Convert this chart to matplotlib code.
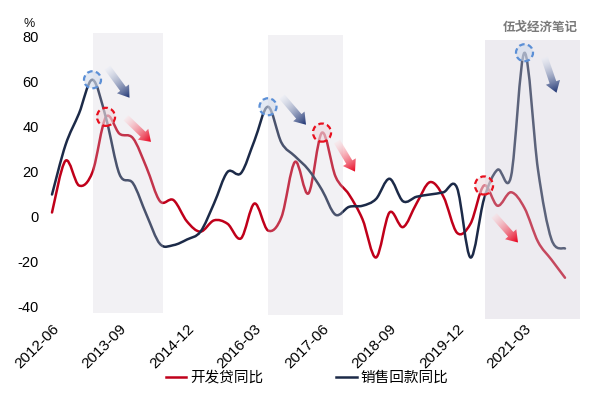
import numpy as np
import matplotlib
matplotlib.use("Agg")
import matplotlib.pyplot as plt
from matplotlib.path import Path
from matplotlib.patches import PathPatch, Rectangle, FancyArrow
from matplotlib.lines import Line2D
from matplotlib.colors import to_rgba

# ---------------- data (quarterly, month index from 2012-06) ----------------
months = list(range(0, 115, 3))
dev_loan = [2, 25, 14, 20, 44.5, 37, 35, 22, 7, 7.5,
            -2, -6.5, -1.5, -3, -9.5, 6, -6, 0, 24.5, 10.5,
            37.5, 18, 10, -1, -18, 2, -4.5, 6, 15.5, 9,
            -7, -3, 14, 5, 11, 4, -11, -19, -27]
sales_ret = [10, 32, 46, 61, 44, 19, 15, 1, -12, -12.5,
             -10, -6.5, 6, 20, 19.5, 34, 49, 33, 27, 21,
             12, 1, 4.5, 5, 8, 17, 7, 9, 10, 11,
             13, -18, 8, 21, 18, 73, 21, -10, -14]
tick_months = [0, 15, 30, 45, 60, 75, 90, 105]
tick_labels = ["2012-06", "2013-09", "2014-12", "2016-03",
               "2017-06", "2018-09", "2019-12", "2021-03"]
y_ticks = [80, 60, 40, 20, 0, -20, -40]
series_names = ["开发贷同比", "销售回款同比"]
# shaded periods (month index start, end)
shade_periods = [(9, 24.7), (48, 64.7), (96.2, 117.3)]
# highlighted peaks: (series, index)
red_marks = [4, 20, 32]
blue_marks = [3, 16, 35]

RED = "#c0001a"
BLUE = "#1c2a48"

plt.rcParams['font.family'] = ['Liberation Sans', 'Noto Sans CJK SC', 'DejaVu Sans']

W, H = 600, 397
fig = plt.figure(figsize=(W / 100, H / 100), dpi=100)
fig.patch.set_facecolor("white")

# axes: left px 40 -> right px 592, top px 25 -> bottom px 316
ax = fig.add_axes([40 / W, (H - 316) / H, 552 / W, 291 / H])
ax.set_xlim(-2.667, 120)
ax.set_ylim(-44, 85.33)
for s in ax.spines.values():
    s.set_visible(False)
ax.tick_params(length=0)
ax.set_yticks(y_ticks)
ax.set_yticklabels([str(v) for v in y_ticks], fontsize=10.5, color="#000000")
ax.tick_params(axis="y", pad=1)
ax.set_xticks(tick_months)
ax.set_xticklabels(tick_labels, rotation=45, ha="right", va="top",
                   rotation_mode="anchor", fontsize=11, color="#000000")
ax.tick_params(axis="x", pad=4)


def smooth_path(x, y):
    pts = np.column_stack([x, y]).astype(float)
    n = len(pts)
    verts = [pts[0]]
    codes = [Path.MOVETO]
    for i in range(n - 1):
        p0 = pts[i - 1] if i > 0 else pts[i]
        p1 = pts[i]
        p2 = pts[i + 1]
        p3 = pts[i + 2] if i + 2 < n else pts[i + 1]
        c1 = p1 + (p2 - p0) / 6.0
        c2 = p2 - (p3 - p1) / 6.0
        verts += [c1, c2, p2]
        codes += [Path.CURVE4] * 3
    return Path(verts, codes)


ax.add_patch(PathPatch(smooth_path(months, dev_loan), fill=False,
                       edgecolor=RED, lw=1.8, capstyle="round",
                       joinstyle="round", zorder=2))
ax.add_patch(PathPatch(smooth_path(months, sales_ret), fill=False,
                       edgecolor=BLUE, lw=1.8, capstyle="round",
                       joinstyle="round", zorder=2))

# shaded periods, drawn on top of lines (semi-transparent)
shade_y = [(-42.7, 81.8, 0.26), (-43.6, 80.9, 0.26), (-45.3, 78.7, 0.36)]
for (a, b), (y0, y1, al) in zip(shade_periods, shade_y):
    ax.add_patch(Rectangle((a, y0), b - a, y1 - y0, facecolor="#cfcad8",
                           edgecolor="none", alpha=al, zorder=3,
                           clip_on=False))

# dashed highlight circles
ax.scatter([months[i] for i in blue_marks], [sales_ret[i] for i in blue_marks],
           s=150, facecolor=(0.82, 0.86, 0.92, 0.6), edgecolor="#5b8fd6",
           linewidths=1.6, linestyles=(0, (2.5, 1.5)), zorder=4)
ax.scatter([months[i] for i in red_marks], [dev_loan[i] for i in red_marks],
           s=170, facecolor=(0.93, 0.85, 0.87, 0.6), edgecolor="#e8101e",
           linewidths=1.6, linestyles=(0, (2.5, 1.5)), zorder=4)

# overlay in pixel coordinates for arrows & texts
ov = fig.add_axes([0, 0, 1, 1], zorder=5)
ov.set_xlim(0, W)
ov.set_ylim(H, 0)
ov.axis("off")
ov.patch.set_alpha(0)


def to_px(xv, yv):
    dx, dy = ax.transData.transform((xv, yv))
    return dx, H - dy


def grad_arrow(x0, y0, x1, y1, c_light, c_dark):
    dx, dy = x1 - x0, y1 - y0
    L2 = dx * dx + dy * dy
    arr = FancyArrow(x0, y0, dx, dy, width=7, head_width=15, head_length=11,
                     length_includes_head=True, facecolor="none",
                     edgecolor="none")
    ov.add_patch(arr)
    xmin, xmax = min(x0, x1) - 12, max(x0, x1) + 12
    ymin, ymax = min(y0, y1) - 12, max(y0, y1) + 12
    xs = np.linspace(xmin, xmax, 120)
    ys = np.linspace(ymin, ymax, 120)
    X, Y = np.meshgrid(xs, ys)
    t = np.clip(((X - x0) * dx + (Y - y0) * dy) / L2, 0, 1)[..., None]
    cl = np.array(to_rgba(c_light))
    cd = np.array(to_rgba(c_dark))
    img = cl * (1 - t) + cd * t
    im = ov.imshow(img, extent=(xmin, xmax, ymax, ymin), origin="upper",
                   aspect="auto", interpolation="bilinear", zorder=6)
    im.set_clip_path(arr)


blue_offsets = [((15, -12), (37, 18)), ((14, -10), (38, 18)), ((20, 5), (32, 40))]
red_offsets = [((20, 1), (45, 25)), ((15, 9), (33, 39)), ((10, 30), (34, 57))]
for i, (o0, o1) in zip(blue_marks, blue_offsets):
    cx, cy = to_px(months[i], sales_ret[i])
    grad_arrow(cx + o0[0], cy + o0[1], cx + o1[0], cy + o1[1],
               (0.90, 0.92, 0.96, 0.4), "#1a3070")
for i, (o0, o1) in zip(red_marks, red_offsets):
    cx, cy = to_px(months[i], dev_loan[i])
    grad_arrow(cx + o0[0], cy + o0[1], cx + o1[0], cy + o1[1],
               (0.99, 0.88, 0.89, 0.4), "#e8001c")

ov.set_xlim(0, W)
ov.set_ylim(H, 0)

fig.text(29 / W, 1 - 24 / H, "%", fontsize=9, ha="center", va="center",
         color="#111111")
fig.text(540 / W, 1 - 27 / H, "伍戈经济笔记", fontsize=9, ha="center",
         va="center", color="#7a7a7a", fontweight="bold",
         family=["Noto Sans CJK SC", "DejaVu Sans"])

handles = [Line2D([], [], color=RED, lw=1.8), Line2D([], [], color=BLUE, lw=1.8)]
fig.legend(handles, series_names, loc="center", bbox_to_anchor=(307 / W, 1 - 378 / H),
           ncol=2, frameon=False, handlelength=1.4, handletextpad=0.25,
           columnspacing=5.0, prop={"family": ["Noto Sans CJK SC", "DejaVu Sans"],
                                    "size": 10.5})

fig.savefig("out.png", dpi=100, facecolor="white")
